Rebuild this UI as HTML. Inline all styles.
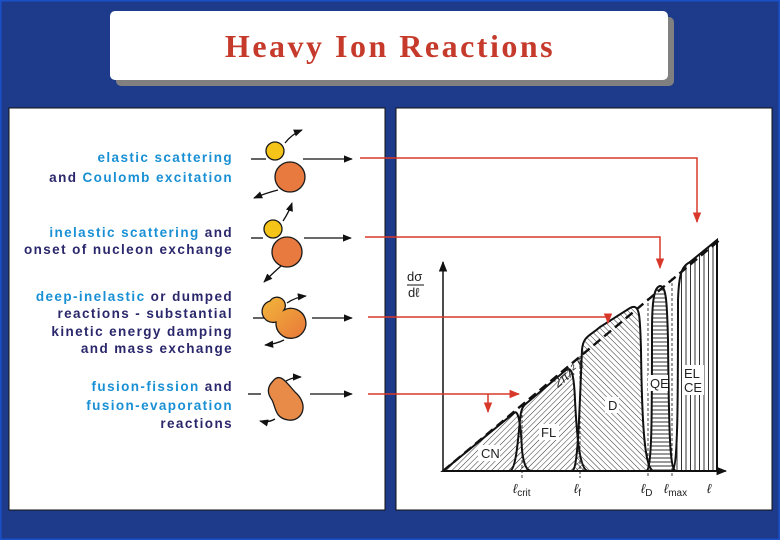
<!DOCTYPE html>
<html><head><meta charset="utf-8"><style>
html,body{margin:0;padding:0;background:#1e3a8a;}
svg{display:block}
.t{font-family:"Liberation Sans",sans-serif;font-weight:bold;font-size:13.5px;letter-spacing:1.4px;text-anchor:end}
.lb{fill:#1a90d4}.dk{fill:#2a276b}
.c{font-family:"Liberation Sans",sans-serif;font-size:13px;fill:#222}
</style></head><body>
<svg width="780" height="540" viewBox="0 0 780 540" xmlns="http://www.w3.org/2000/svg">
<defs>
<marker id="ab" viewBox="0 0 10 10" refX="9" refY="5" markerWidth="7" markerHeight="7" orient="auto"><path d="M0,1 L10,5 L0,9z" fill="#111"/></marker>
<marker id="ar" viewBox="0 0 10 10" refX="9" refY="5" markerWidth="7" markerHeight="7" orient="auto"><path d="M0,1 L10,5 L0,9z" fill="#d8382a"/></marker>
<pattern id="d1" width="4" height="4" patternUnits="userSpaceOnUse" patternTransform="rotate(45)"><line x1="0" y1="0" x2="0" y2="4" stroke="#333" stroke-width="1"/></pattern>
<pattern id="d2" width="4" height="4" patternUnits="userSpaceOnUse" patternTransform="rotate(-45)"><line x1="0" y1="0" x2="0" y2="4" stroke="#333" stroke-width="1"/></pattern>
<pattern id="hz" width="5" height="4" patternUnits="userSpaceOnUse"><line x1="0" y1="2" x2="5" y2="2" stroke="#333" stroke-width="1"/></pattern>
<pattern id="vt" width="4.5" height="5" patternUnits="userSpaceOnUse"><line x1="2" y1="0" x2="2" y2="5" stroke="#333" stroke-width="1"/></pattern>
<linearGradient id="og" x1="0" y1="0" x2="1" y2="1"><stop offset="0" stop-color="#f2b63a"/><stop offset="1" stop-color="#e8783a"/></linearGradient>
</defs>
<rect x="0" y="0" width="780" height="540" fill="#1e3a8a" stroke="#1a50c8" stroke-width="3"/>
<rect x="116" y="17" width="558" height="69" rx="5" fill="#808080"/>
<rect x="110" y="11" width="558" height="69" rx="5" fill="#fff"/>
<text x="390" y="57" text-anchor="middle" font-family="Liberation Serif,serif" font-weight="bold" font-size="32" letter-spacing="2.5" fill="#c63a2c">Heavy  Ion  Reactions</text>
<rect x="9" y="108" width="376" height="402" fill="#fff" stroke="#111" stroke-width="1"/>
<rect x="396" y="108" width="376" height="402" fill="#fff" stroke="#111" stroke-width="1"/>
<text class="t" x="233" y="162"><tspan class="lb">elastic  scattering</tspan></text>
<text class="t" x="233" y="182"><tspan class="dk">and </tspan><tspan class="lb">Coulomb  excitation</tspan></text>
<text class="t" x="233" y="237"><tspan class="lb">inelastic  scattering</tspan><tspan class="dk"> and</tspan></text>
<text class="t dk" x="233" y="254">onset of nucleon exchange</text>
<text class="t" x="233" y="301"><tspan class="lb">deep-inelastic</tspan><tspan class="dk"> or dumped</tspan></text>
<text class="t dk" x="233" y="318">reactions - substantial</text>
<text class="t dk" x="233" y="336">kinetic energy damping</text>
<text class="t dk" x="233" y="353">and mass exchange</text>
<text class="t" x="233" y="391"><tspan class="lb">fusion-fission</tspan><tspan class="dk"> and</tspan></text>
<text class="t lb" x="233" y="410">fusion-evaporation</text>
<text class="t dk" x="233" y="428">reactions</text>
<g stroke="#111" stroke-width="1.3" fill="none">
<line x1="251" y1="159" x2="266" y2="159"/><line x1="303" y1="159" x2="352" y2="159" marker-end="url(#ab)"/>
<path d="M285,143 Q292,134 302,130" marker-end="url(#ab)"/><path d="M278,190 Q266,193 254,198" marker-end="url(#ab)"/>
<line x1="251" y1="238" x2="263" y2="238"/><line x1="304" y1="238" x2="351" y2="238" marker-end="url(#ab)"/>
<path d="M283,221 Q289,212 292,203" marker-end="url(#ab)"/><path d="M281,266 Q273,273 264,282" marker-end="url(#ab)"/>
<line x1="253" y1="318" x2="266" y2="318"/><line x1="312" y1="318" x2="352" y2="318" marker-end="url(#ab)"/>
<path d="M287,303 Q296,297 306,296" marker-end="url(#ab)"/><path d="M284,340 Q276,344 265,345" marker-end="url(#ab)"/>
<line x1="248" y1="394" x2="261" y2="394"/><line x1="310" y1="394" x2="352" y2="394" marker-end="url(#ab)"/>
<path d="M286,381 Q293,377 301,377" marker-end="url(#ab)"/><path d="M275,419 Q268,423 260,421" marker-end="url(#ab)"/>
</g>
<g stroke="#1a1a1a" stroke-width="1.3">
<circle cx="290" cy="177" r="15" fill="#e87a40"/><circle cx="275" cy="151" r="9" fill="#f4c418"/>
<circle cx="287" cy="252" r="15" fill="#e87a40"/><circle cx="273" cy="229" r="9" fill="#f4c418"/>
<path d="M270,301 A8,8 0 0 1 284,310 A15,15 0 1 1 276,322 A8,8 0 0 1 270,301z" fill="url(#og)"/>
<path d="M273,381 C280,372 286,382 295,392 C310,405 302,422 288,420 C275,418 276,408 272,400 C266,392 268,386 273,381z" fill="#e88a48"/>
</g>
<!-- chart -->
<g fill="none" stroke="#111">
<path d="M443,471 L514,413 C519,408 521,430 522,450 C524,468 528,471 532,471 L443,471z" fill="url(#d1)" stroke-width="2"/>
<path d="M510,471 C516,469 518,440 520,420 C521,407 524,405 528,402 L566,370 C572,366 574,376 575,400 C577,440 580,470 588,471z" fill="url(#d1)" stroke-width="2"/>
<path d="M572,471 C578,470 579,420 582,350 C583,336 590,336 600,327 L630,308 C640,303 640,315 641,350 C642,430 645,470 654,471z" fill="url(#d2)" stroke-width="2"/>
<path d="M646,471 C652,470 652,420 652,330 C652,292 656,287 660,286 C666,286 667,300 668,340 C669,440 670,470 676,471z" fill="url(#hz)" stroke-width="2"/>
<path d="M672,471 C678,470 678,400 678,300 C679,270 683,266 690,262 L717,240 L717,471z" fill="url(#vt)" stroke-width="2"/>
<line x1="443" y1="471" x2="722" y2="238" stroke-dasharray="9,5" stroke-width="2.4"/>
<line x1="443" y1="471" x2="443" y2="262" stroke-width="1.5" marker-end="url(#ab)"/>
<line x1="443" y1="471" x2="726" y2="471" stroke-width="1.5" marker-end="url(#ab)"/>
<g stroke-dasharray="3,2" stroke-width="0.8"><line x1="522" y1="405" x2="522" y2="478"/><line x1="580" y1="356" x2="580" y2="478"/><line x1="648" y1="298" x2="648" y2="478"/><line x1="672" y1="278" x2="672" y2="478"/></g>
</g>
<rect x="478" y="445" width="22" height="16" fill="#fff"/><rect x="539" y="424" width="20" height="16" fill="#fff"/><rect x="605" y="397" width="14" height="16" fill="#fff"/><rect x="648" y="375" width="20" height="16" fill="#fff"/><rect x="682" y="365" width="22" height="30" fill="#fff"/>
<text class="c" x="407" y="281" font-size="11">dσ</text><line x1="407" y1="285" x2="424" y2="285" stroke="#111"/><text class="c" x="408" y="297" font-size="11">dℓ</text>
<text class="c" x="0" y="0" font-size="11" font-style="italic" transform="translate(558,388) rotate(-40)">2πƛ² ℓ</text>
<text class="c" x="481" y="458">CN</text><text class="c" x="541" y="437">FL</text><text class="c" x="608" y="410">D</text>
<text class="c" x="650" y="388">QE</text><text class="c" x="684" y="378">EL</text><text class="c" x="684" y="392">CE</text>
<text class="c" x="513" y="493" font-size="14" font-style="italic">ℓ<tspan font-size="10" font-style="normal" dy="3">crit</tspan></text>
<text class="c" x="574" y="493" font-size="14" font-style="italic">ℓ<tspan font-size="10" font-style="normal" dy="3">f</tspan></text>
<text class="c" x="641" y="493" font-size="14" font-style="italic">ℓ<tspan font-size="10" font-style="normal" dy="3">D</tspan></text>
<text class="c" x="664" y="493" font-size="14" font-style="italic">ℓ<tspan font-size="10" font-style="normal" dy="3">max</tspan></text>
<text class="c" x="707" y="493" font-size="14" font-style="italic">ℓ</text>
<g stroke="#d8382a" stroke-width="1.5" fill="none">
<path d="M360,158 L697,158 L697,222" marker-end="url(#ar)"/>
<path d="M365,237 L660,237 L660,268" marker-end="url(#ar)"/>
<path d="M368,317 L608,317 L608,323" marker-end="url(#ar)"/>
<line x1="368" y1="394" x2="519" y2="394" marker-end="url(#ar)"/>
<line x1="488" y1="394" x2="488" y2="412" marker-end="url(#ar)"/>
</g>
</svg>
</body></html>
